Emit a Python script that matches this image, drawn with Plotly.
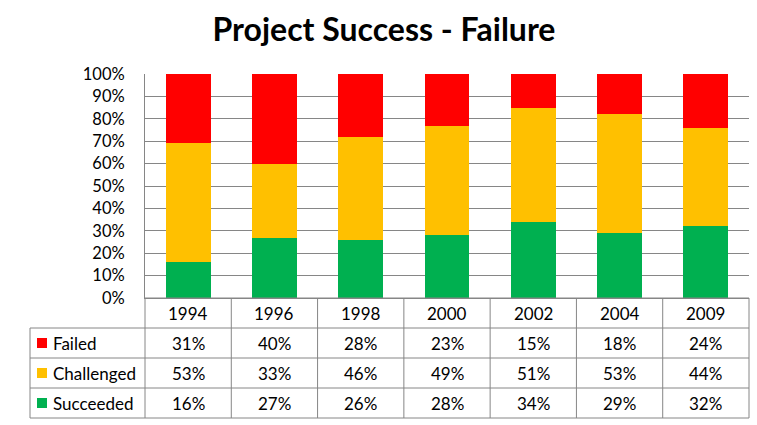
import plotly.graph_objects as go

# ---------------- data ----------------
years = ["1994", "1996", "1998", "2000", "2002", "2004", "2009"]
failed = [31, 40, 28, 23, 15, 18, 24]
challenged = [53, 33, 46, 49, 51, 53, 44]
succeeded = [16, 27, 26, 28, 34, 29, 32]
y_ticks = [0, 10, 20, 30, 40, 50, 60, 70, 80, 90, 100]
title_text = "Project Success - Failure"

# series as shown in table (top to bottom) and colours
table_rows = [("Failed", failed, "#FF0000"),
              ("Challenged", challenged, "#FFC000"),
              ("Succeeded", succeeded, "#00B050")]

# ---------------- layout constants (pixels) ----------------
W, H = 757, 425
PL, PR, PT, PB = 145, 749, 74, 298        # bar plot area
TL, TT, ROW = 30, 298, 30                 # table left, top, row height
PAD = 4
n = len(years)
unit = (PR - PL) / n                      # px per category
GRID = "#868686"
FONT = "Lato"

def fx(px):
    return px / W

def fy(py):
    return 1 - py / H

fig = go.Figure()

# stacked bars (bottom to top)
for name, vals, col in reversed(table_rows):
    fig.add_trace(go.Bar(
        x=list(range(n)), y=[v / 100 for v in vals], name=name,
        marker=dict(color=col, line=dict(width=0)), width=0.52,
        xaxis="x", yaxis="y", showlegend=False, hoverinfo="skip"))

# legend squares inside the table
left_units = (PL - TL) / unit
x_left = -0.5 - left_units
for i, (name, vals, col) in enumerate(table_rows):
    fig.add_trace(go.Scatter(
        x=[x_left + 12 / unit], y=[i + 1.5], mode="markers",
        marker=dict(symbol="square", size=10, color=col, line=dict(width=0)),
        xaxis="x2", yaxis="y2", showlegend=False, hoverinfo="skip"))

shapes = []
ann = []
lw = dict(color=GRID, width=1)
nrows = len(table_rows) + 1
# horizontal table lines
for r in range(nrows + 1):
    x0 = -0.5 if r == 0 else x_left
    shapes.append(dict(type="line", xref="x2", yref="y2", x0=x0, x1=n - 0.5,
                       y0=r, y1=r, line=lw))
# vertical table lines
shapes.append(dict(type="line", xref="x2", yref="y2", x0=x_left, x1=x_left,
                   y0=1, y1=nrows, line=lw))
for c in range(n + 1):
    shapes.append(dict(type="line", xref="x2", yref="y2", x0=c - 0.5, x1=c - 0.5,
                       y0=0, y1=nrows, line=lw))

tfont = dict(family=FONT, size=17, color="#000000")
for c, yr in enumerate(years):
    ann.append(dict(xref="x2", yref="y2", x=c, y=0.5, text=yr, showarrow=False,
                    font=tfont, xanchor="center", yanchor="middle"))
for i, (name, vals, col) in enumerate(table_rows):
    ann.append(dict(xref="x2", yref="y2", x=x_left + 21 / unit, y=i + 1.5, text=name,
                    showarrow=False, font=tfont, xanchor="left", yanchor="middle"))
    for c, v in enumerate(vals):
        ann.append(dict(xref="x2", yref="y2", x=c, y=i + 1.5, text=f"{v}%",
                        showarrow=False, font=tfont, xanchor="center", yanchor="middle"))

fig.update_layout(
    width=W, height=H, autosize=False,
    margin=dict(l=0, r=0, t=0, b=0, pad=0, autoexpand=False),
    paper_bgcolor="white", plot_bgcolor="rgba(0,0,0,0)",
    barmode="stack", bargap=0.48,
    title=dict(text=f"<b>{title_text}</b>", x=fx(384), xanchor="center",
               y=fy(30), yanchor="middle",
               font=dict(family=FONT, size=32, color="#000000")),
    xaxis=dict(domain=[fx(PL), fx(PR)], range=[-0.5, n - 0.5], anchor="y",
               showticklabels=False, showgrid=False, zeroline=False,
               showline=True, linecolor=GRID, linewidth=1, fixedrange=True,
               automargin=False),
    yaxis=dict(domain=[fy(PB), fy(PT)], range=[0, 1], anchor="x",
               tickvals=[t / 100 for t in y_ticks],
               ticktext=[f"{t}%" for t in y_ticks],
               showgrid=True, gridcolor=GRID, gridwidth=1, zeroline=False,
               showline=True, linecolor=GRID, linewidth=1, ticks="",
               ticklabelstandoff=16, automargin=False,
               tickfont=dict(family=FONT, size=16.5, color="#000000")),
    xaxis2=dict(domain=[fx(TL - PAD), fx(PR + PAD)],
                range=[x_left - PAD / unit, n - 0.5 + PAD / unit],
                anchor="y2", visible=False, fixedrange=True, automargin=False),
    yaxis2=dict(domain=[fy(TT + nrows * ROW + PAD), fy(TT - PAD)],
                range=[nrows + PAD / ROW, -PAD / ROW],
                anchor="x2", visible=False, fixedrange=True, automargin=False),
    shapes=shapes, annotations=ann,
)

fig.write_html("out.html", config={"displayModeBar": False},
               post_script="document.body.style.margin='0';document.body.style.overflow='hidden';")
